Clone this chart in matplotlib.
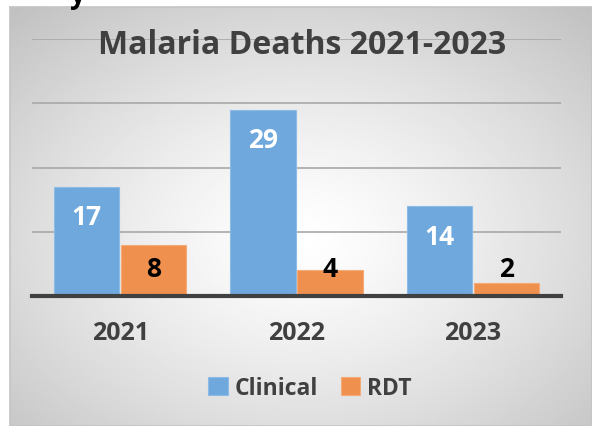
import numpy as np
import matplotlib.pyplot as plt

# data
years = ['2021', '2022', '2023']
clinical = [17, 29, 14]
rdt = [8, 4, 2]

blue = '#6fa8dc'
orange = '#f0904e'
txt = '#404040'

plt.rcParams['font.family'] = ['Open Sans', 'DejaVu Sans']
plt.rcParams['font.weight'] = 'bold'

W, H = 592, 427
fig = plt.figure(figsize=(W / 100, H / 100), dpi=100)
fig.patch.set_facecolor('white')

# chart area with radial gradient background
x0, y0 = 10 / W, 0
bg = fig.add_axes([x0, y0, 1 - x0, 1 - 8 / H], zorder=0)
yy, xx = np.mgrid[0:1:300j, 0:1:400j]
r = np.sqrt(((xx - 0.5) / 0.75) ** 2 + ((yy - 0.55) / 0.75) ** 2)
shade = 1 - 0.25 * np.clip(r, 0, 1) ** 1.3
bg.imshow(shade, cmap='gray', vmin=0, vmax=1, extent=[0, 1, 0, 1], aspect='auto')
bg.set_xticks([])
bg.set_yticks([])
for s in bg.spines.values():
    s.set_color('#c4c4c4')
    s.set_linewidth(1.2)

# main plot area
ax = fig.add_axes([32 / W, 1 - 297 / H, (561 - 32) / W, (297 - 40) / H], zorder=1)
ax.patch.set_alpha(0)
x = np.arange(len(years))
w = 0.37
b1 = ax.bar(x - w / 2 - 0.005, clinical, w, color=blue, edgecolor='#8dbbe6', linewidth=0.8, label='Clinical', zorder=2)
b2 = ax.bar(x + w / 2 + 0.005, rdt, w, color=orange, edgecolor='#f5ab78', linewidth=0.8, label='RDT', zorder=2)
ax.set_ylim(0, 40)
ax.set_xlim(-0.5, 2.5)
ax.set_yticks([10, 20, 30, 40])
ax.yaxis.grid(True, color='#a8a8a8', linewidth=1.2)
ax.set_axisbelow(True)
ax.tick_params(axis='y', length=0, labelleft=False)
ax.tick_params(axis='x', length=0, pad=17, labelsize=18, labelcolor=txt)
ax.set_xticks(x)
ax.set_xticklabels(years, fontweight='bold')
for s in ['top', 'left', 'right']:
    ax.spines[s].set_visible(False)
ax.spines['bottom'].set_color('#404040')
ax.spines['bottom'].set_linewidth(3)
ax.spines['bottom'].set_zorder(3)

for bar, v in zip(b1, clinical):
    ax.text(bar.get_x() + bar.get_width() / 2, v - 4.7, str(v), ha='center', va='center',
            color='white', fontsize=19, fontweight='bold', zorder=4)
for bar, v in zip(b2, rdt):
    ax.text(bar.get_x() + bar.get_width() / 2, max(v - 3.8, 4.3), str(v), ha='center', va='center',
            color='black', fontsize=19, fontweight='bold', zorder=4)

fig.text(302 / W, 1 - 46 / H, 'Malaria Deaths 2021-2023', ha='center', va='center',
         fontsize=23, fontweight='bold', color=txt, zorder=5)

leg = fig.legend(handles=[b1, b2], loc='center', bbox_to_anchor=(310 / W, 1 - 389 / H), ncol=2,
                 frameon=False, handlelength=0.85, handleheight=0.85,
                 handletextpad=0.3, columnspacing=1.0, prop={'weight': 'bold', 'size': 16.5})
for t in leg.get_texts():
    t.set_color(txt)

fig.text(78 / W, 1 + 4 / H, 'y', ha='center', va='center', fontsize=20, fontweight='bold', color='black')

fig.savefig('out.png', dpi=100)
